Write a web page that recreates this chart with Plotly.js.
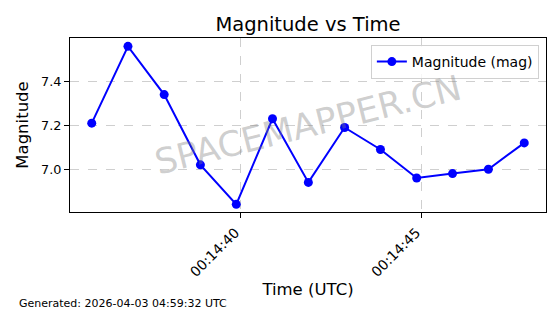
<!DOCTYPE html>
<html><head><meta charset="utf-8">
<script src="https://cdn.plot.ly/plotly-3.0.1.min.js"></script>
<style>html,body{margin:0;padding:0;background:#fff}</style>
</head><body><div id="chart" style="width:560px;height:314px"></div>
<script>
const times = [
  "2026-04-03 00:14:35.90","2026-04-03 00:14:36.90","2026-04-03 00:14:37.90",
  "2026-04-03 00:14:38.90","2026-04-03 00:14:39.89","2026-04-03 00:14:40.89",
  "2026-04-03 00:14:41.88","2026-04-03 00:14:42.88","2026-04-03 00:14:43.87",
  "2026-04-03 00:14:44.87","2026-04-03 00:14:45.86","2026-04-03 00:14:46.85",
  "2026-04-03 00:14:47.84"
];
const magnitudes = [7.21, 7.56, 7.34, 7.02, 6.84, 7.23, 6.94, 7.19, 7.09, 6.96, 6.98, 7.00, 7.12];
const seriesName = "Magnitude (mag)";
const titleText = "Magnitude vs Time";
const xLabel = "Time (UTC)";
const yLabel = "Magnitude";
const footer = "Generated: 2026-04-03 04:59:32 UTC";
const watermark = "SPACEMAPPER.CN";

const F = "DejaVu Sans, sans-serif";
const trace = {
  x: times, y: magnitudes, name: seriesName, type: "scatter", mode: "lines+markers",
  line: {color: "#0000ff", width: 2}, marker: {color: "#0000ff", size: 9},
  showlegend: true
};
const layout = {
  width: 560, height: 314,
  margin: {l: 70, r: 14, t: 38, b: 102},
  paper_bgcolor: "#fff", plot_bgcolor: "#fff",
  font: {family: F, color: "#000"},
  title: {text: titleText, font: {size: 19.5, family: F}, x: 0.55, xanchor: "center", y: 0.922, yanchor: "middle"},
  xaxis: {
    type: "date", range: ["2026-04-03 00:14:35.30", "2026-04-03 00:14:48.44"],
    tick0: "2026-04-03 00:14:40", dtick: 5000, tickformat: "%H:%M:%S",
    tickangle: -45, tickfont: {size: 13.9, family: F},
    ticklabelshift: -5, ticklabelstandoff: 1,
    showgrid: true, gridcolor: "#cfcfcf", griddash: "dash", gridwidth: 1,
    showline: true, linecolor: "#000", linewidth: 1, mirror: true,
    ticks: "outside", ticklen: 5, tickcolor: "#000", zeroline: false,
    title: {text: xLabel, font: {size: 16.5, family: F}, standoff: 4}
  },
  yaxis: {
    range: [6.805, 7.598], tickvals: [7.0, 7.2, 7.4], ticktext: ["7.0", "7.2", "7.4"],
    tickfont: {size: 12.8, family: F},
    showgrid: true, gridcolor: "#cfcfcf", griddash: "dash", gridwidth: 1,
    showline: true, linecolor: "#000", linewidth: 1, mirror: true,
    ticks: "outside", ticklen: 5, tickcolor: "#000", zeroline: false,
    title: {text: yLabel, font: {size: 16.5, family: F}, standoff: 8}
  },
  legend: {
    x: 0.985, y: 0.96, xanchor: "right", yanchor: "top",
    bgcolor: "rgba(255,255,255,0.8)", bordercolor: "#d0d0d0", borderwidth: 1,
    font: {size: 14, family: F}
  },
  annotations: [
    {text: watermark, xref: "paper", yref: "paper", x: 0.5, y: 0.5, showarrow: false,
     textangle: -14, font: {size: 35, family: F, color: "rgba(128,128,128,0.38)"}},
    {text: footer, xref: "paper", yref: "paper", x: -0.111, y: -0.525, xanchor: "left", yanchor: "middle",
     showarrow: false, font: {size: 11, family: F, color: "#000"}}
  ]
};
Plotly.newPlot("chart", [trace], layout, {displayModeBar: false, staticPlot: true});
</script></body></html>
